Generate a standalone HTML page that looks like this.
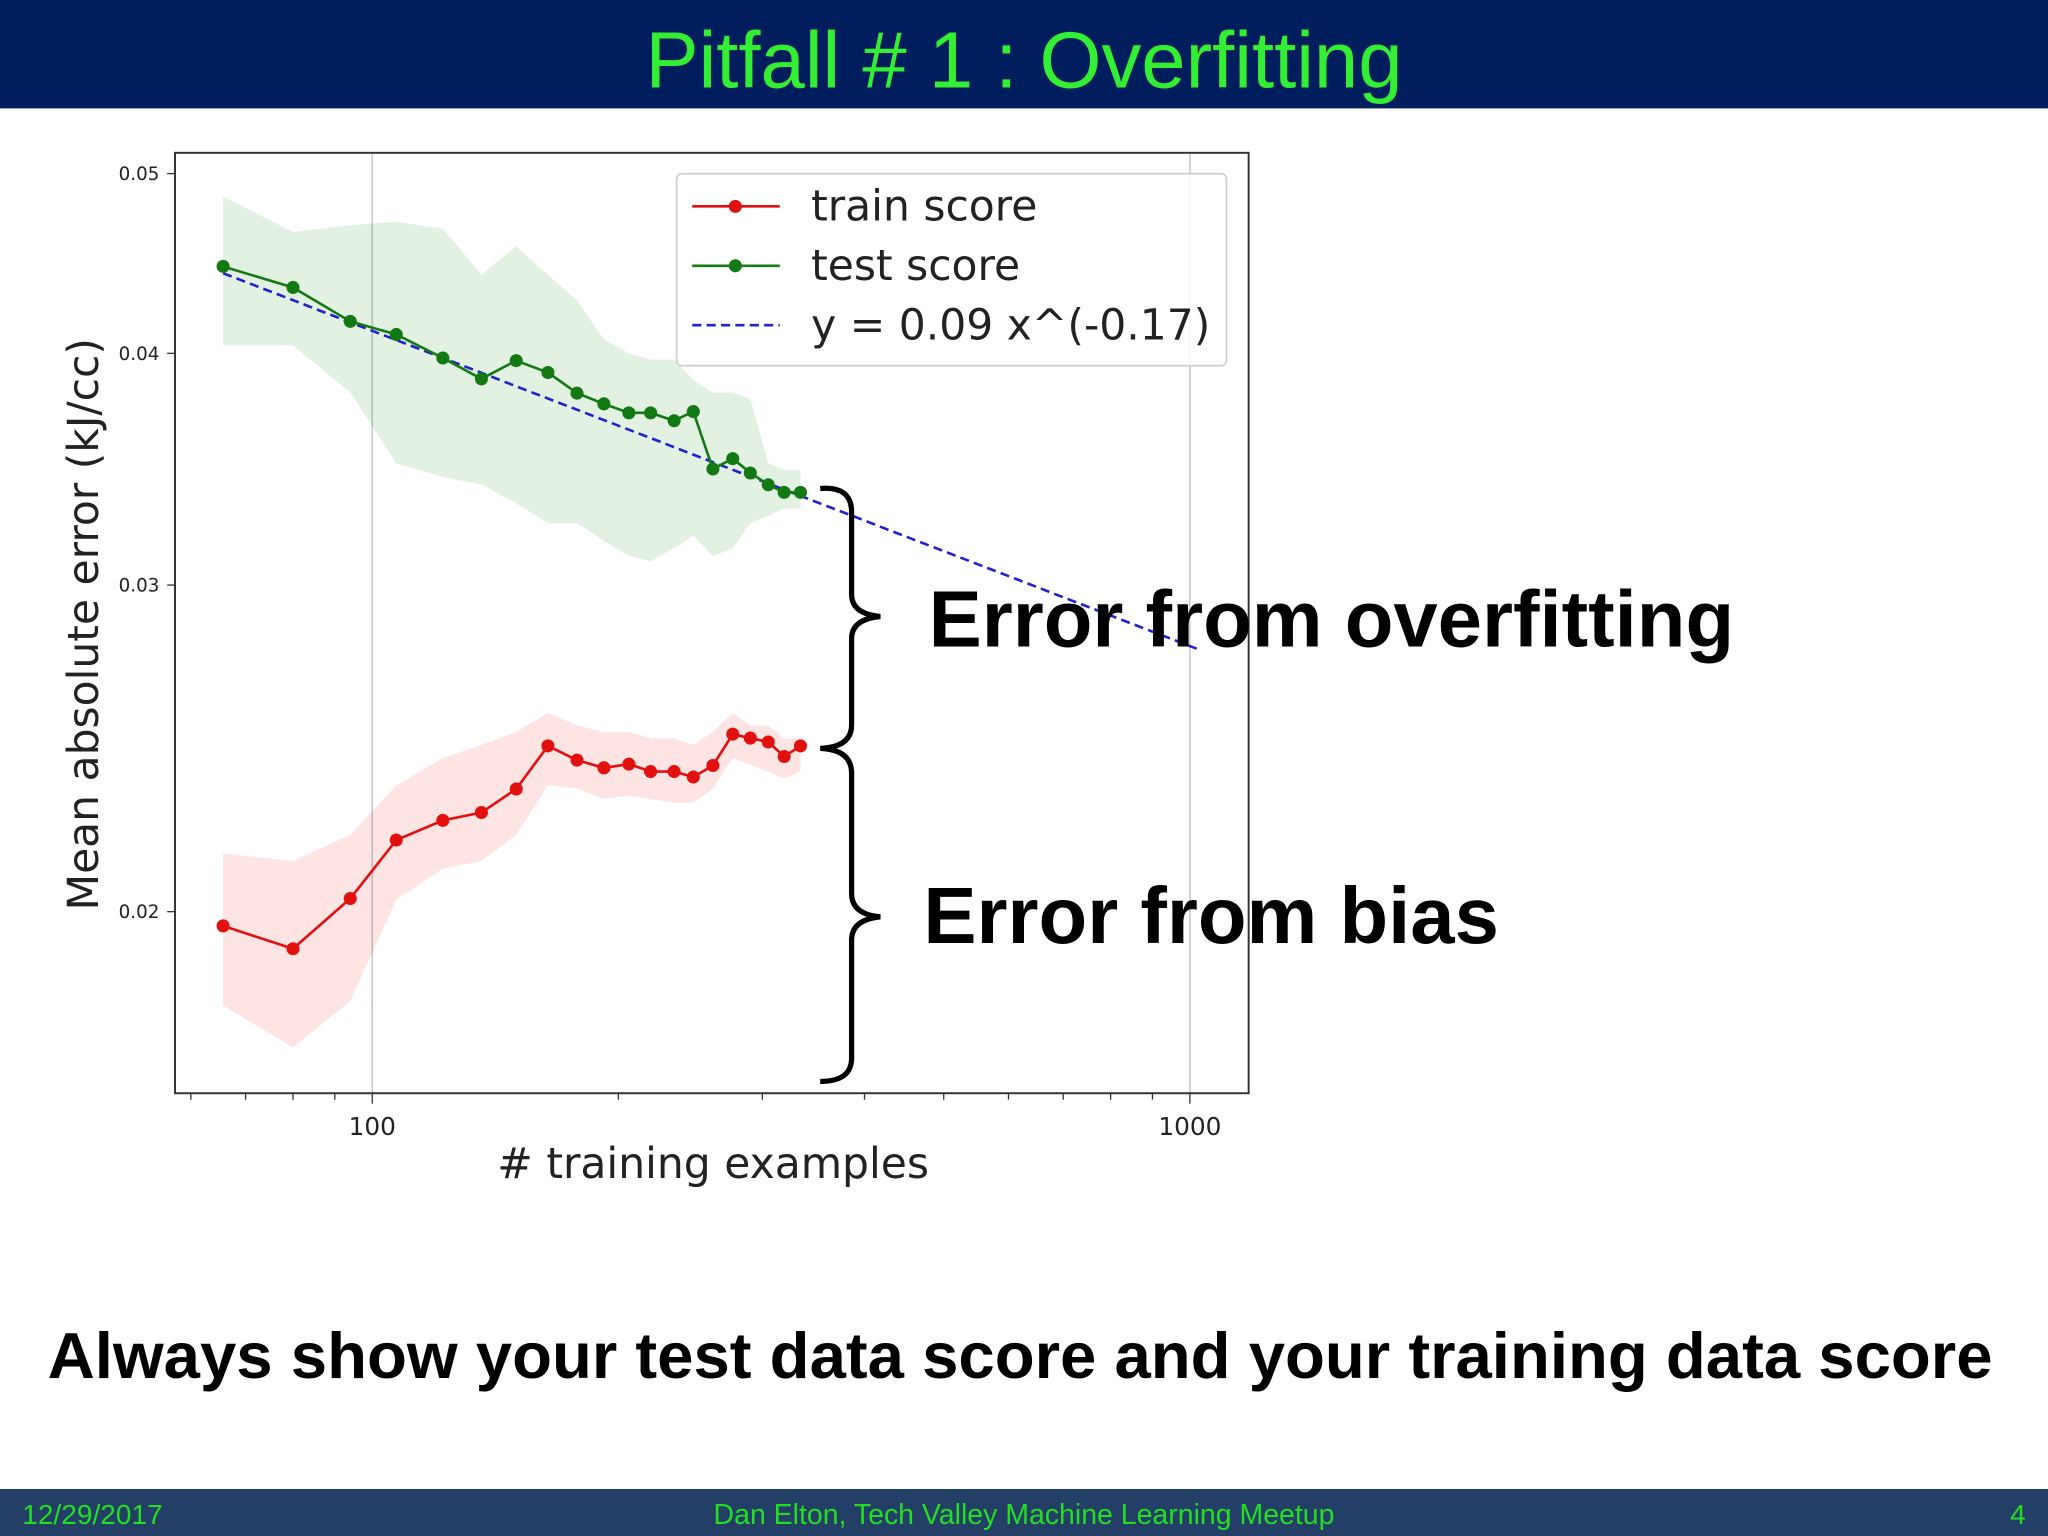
<!DOCTYPE html>
<html><head><meta charset="utf-8"><style>
html,body{margin:0;padding:0;background:#fff;}
svg{display:block;}
</style></head><body>
<svg id="slide" width="2048" height="1536" viewBox="0 0 1568 1176" xmlns="http://www.w3.org/2000/svg" font-family="'Liberation Sans', sans-serif">
<rect x="0" y="0" width="1568" height="83" fill="#001e5e"/>
<text x="784" y="67" text-anchor="middle" font-size="61" fill="#33ee33">Pitfall # 1 : Overfitting</text>
<g id="chart"></g>
<g id="braces">
<path d="M628,374 Q652,372 652,392 L652,455 Q652,470 674,472 Q652,474 652,489 L652,555 Q652,572 628,573 Q652,574 652,592 L652,684 Q652,700 674,702 Q652,704 652,720 L652,810 Q652,828 628,828" fill="none" stroke="#000" stroke-width="4"/>
</g>
<text x="711" y="495" font-size="61" font-weight="bold" fill="#000">Error from overfitting</text>
<text x="707" y="722" font-size="61" font-weight="bold" fill="#000">Error from bias</text>
<text x="781" y="1055" text-anchor="middle" font-size="50" font-weight="bold" fill="#000">Always show your test data score and your training data score</text>
<rect x="0" y="1140" width="1568" height="36" fill="#243f66"/>
<text x="17" y="1167" font-size="21.5" fill="#22dd22">12/29/2017</text>
<text x="784" y="1167" text-anchor="middle" font-size="21.8" fill="#22dd22">Dan Elton, Tech Valley Machine Learning Meetup</text>
<text x="1551" y="1167" text-anchor="end" font-size="21.5" fill="#22dd22">4</text>
</svg>
<script>
const xValues=[65.7,80,94,107,122,136,150,164,178,192,206,219,234,247,261,276,290,305,319,334];
const trainScores=[0.01965,0.0191,0.02033,0.02186,0.0224,0.02262,0.02329,0.02457,0.02414,0.02391,0.02402,0.0238,0.0238,0.02364,0.02398,0.02493,0.02481,0.02469,0.02425,0.02457];
const testScores=[0.04456,0.04341,0.04162,0.04095,0.03977,0.03875,0.03964,0.03906,0.03807,0.03757,0.03715,0.03715,0.03679,0.03721,0.03465,0.0351,0.03448,0.03398,0.03366,0.03366];
const testUpper=[0.0486,0.0465,0.0469,0.0471,0.0467,0.0441,0.0457,0.0441,0.0427,0.0407,0.04,0.0397,0.0397,0.0387,0.0381,0.0381,0.0378,0.0349,0.0346,0.0346];
const testLower=[0.0404,0.0404,0.0381,0.0349,0.0343,0.034,0.0332,0.0324,0.0324,0.0317,0.0311,0.0309,0.0314,0.0319,0.0311,0.0314,0.0324,0.0327,0.033,0.033];
const trainUpper=[0.0215,0.0213,0.022,0.0234,0.0242,0.0246,0.025,0.0256,0.0252,0.025,0.025,0.0248,0.0248,0.0246,0.025,0.0256,0.0252,0.0252,0.0248,0.0248];
const trainLower=[0.0178,0.0169,0.0179,0.0203,0.0211,0.0213,0.022,0.0234,0.0233,0.023,0.0231,0.023,0.0229,0.0229,0.0233,0.0242,0.024,0.0238,0.0236,0.0238];
const fitCoef=0.09, fitExp=-0.17, fitRange=[65.7,1030];
const yTicks=[0.02,0.03,0.04,0.05];
const yTickLabels=["0.02","0.03","0.04","0.05"];
const xMajorTicks=[100,1000];
const xMajorLabels=["100","1000"];
const xMinorTicks=[60,70,80,90,200,300,400,500,600,700,800,900];

const NS="http://www.w3.org/2000/svg";
const L=134,R=956,T=117,B=837;
function sx(v){return 285+626*Math.log10(v/100);}
function sy(v){return 698-1420*Math.log10(v/0.02);}
const g=document.getElementById('chart');
function mk(tag,attrs,parent){const e=document.createElementNS(NS,tag);for(const k in attrs)e.setAttribute(k,attrs[k]);(parent||g).appendChild(e);return e;}

xMajorTicks.forEach(v=>{
  const e=mk('line',{x1:sx(v),x2:sx(v),y1:T,y2:B,stroke:'#c8c8c8','stroke-width':1.2});
  
  
});
function band(up,lo,color,name){
  let d='';
  xValues.forEach((x,i)=>{d+=(i?'L':'M')+sx(x).toFixed(1)+','+sy(up[i]).toFixed(1);});
  for(let i=xValues.length-1;i>=0;i--)d+='L'+sx(xValues[i]).toFixed(1)+','+sy(lo[i]).toFixed(1);
  const e=mk('path',{d:d+'Z',fill:color,'fill-opacity':0.12});
  
  
}
band(testUpper,testLower,'#1a8a1a','test-score-band');
band(trainUpper,trainLower,'#ff2222','train-score-band');
{
  const pts=[];for(let i=0;i<=40;i++){const x=fitRange[0]*Math.pow(fitRange[1]/fitRange[0],i/40);pts.push(sx(x).toFixed(1)+','+sy(fitCoef*Math.pow(x,fitExp)).toFixed(1));}
  const e=mk('polyline',{points:pts.join(' '),fill:'none',stroke:'#2222cc','stroke-width':2,'stroke-dasharray':'7,4'});
  
  
}
function series(vals,color,name){
  const e=mk('polyline',{points:xValues.map((x,i)=>sx(x).toFixed(1)+','+sy(vals[i]).toFixed(1)).join(' '),fill:'none',stroke:color,'stroke-width':2});
  
  
  xValues.forEach((x,i)=>{
    const c=mk('circle',{cx:sx(x),cy:sy(vals[i]),r:5,fill:color});
    
    
  });
}
series(testScores,'#137a13','test-score');
series(trainScores,'#e31010','train-score');
{
  const e=mk('rect',{x:L,y:T,width:R-L,height:B-T,fill:'none',stroke:'#333','stroke-width':1.5});
  
  
}
yTicks.forEach((v,i)=>{
  const t=mk('line',{x1:L-6,x2:L,y1:sy(v),y2:sy(v),stroke:'#333','stroke-width':1});
  
  
  const tx=mk('text',{x:L-12,y:sy(v)+5,'text-anchor':'end','font-size':14,fill:'#222','font-family':"'DejaVu Sans', sans-serif"});
  tx.textContent=yTickLabels[i];
  
  
});
xMajorTicks.forEach((v,i)=>{
  const t=mk('line',{x1:sx(v),x2:sx(v),y1:B,y2:B+8,stroke:'#333','stroke-width':1});
  
  
  const tx=mk('text',{x:sx(v),y:B+32,'text-anchor':'middle','font-size':19,fill:'#222','font-family':"'DejaVu Sans', sans-serif"});
  tx.textContent=xMajorLabels[i];
  
  
});
xMinorTicks.forEach(v=>{
  const t=mk('line',{x1:sx(v),x2:sx(v),y1:B,y2:B+5,stroke:'#333','stroke-width':1});
  
  
});
{
  const t=mk('text',{x:546,y:902,'text-anchor':'middle','font-size':32.5,fill:'#222','font-family':"'DejaVu Sans', sans-serif"});
  t.textContent='# training examples';
  
  
  const y=mk('text',{x:0,y:0,transform:'translate(75,478) rotate(-90)','text-anchor':'middle','font-size':32.5,fill:'#222','font-family':"'DejaVu Sans', sans-serif"});
  y.textContent='Mean absolute error (kJ/cc)';
  
  
}
{
  const lg=mk('g',{});
  
  
  mk('rect',{x:518,y:133,width:421,height:147,rx:4,fill:'#fff','fill-opacity':0.85,stroke:'#ccc','stroke-width':1.2},lg);
  const items=[['train score','#e31010',false,'legend-entry-train'],['test score','#137a13',false,'legend-entry-test'],['y = 0.09 x^(-0.17)','#2222cc',true,'legend-entry-fit']];
  items.forEach((it,i)=>{
    const yy=158+i*45.5;
    const e=mk('g',{},lg);
    
    
    mk('line',{x1:530,x2:597,y1:yy,y2:yy,stroke:it[1],'stroke-width':2,'stroke-dasharray':it[2]?'7,4':'none'},e);
    if(!it[2])mk('circle',{cx:563,cy:yy,r:5,fill:it[1]},e);
    const t=mk('text',{x:621,y:yy+11,'font-size':32.5,fill:'#222','font-family':"'DejaVu Sans', sans-serif"},e);
    t.textContent=it[0];
  });
}
</script>
</body></html>
